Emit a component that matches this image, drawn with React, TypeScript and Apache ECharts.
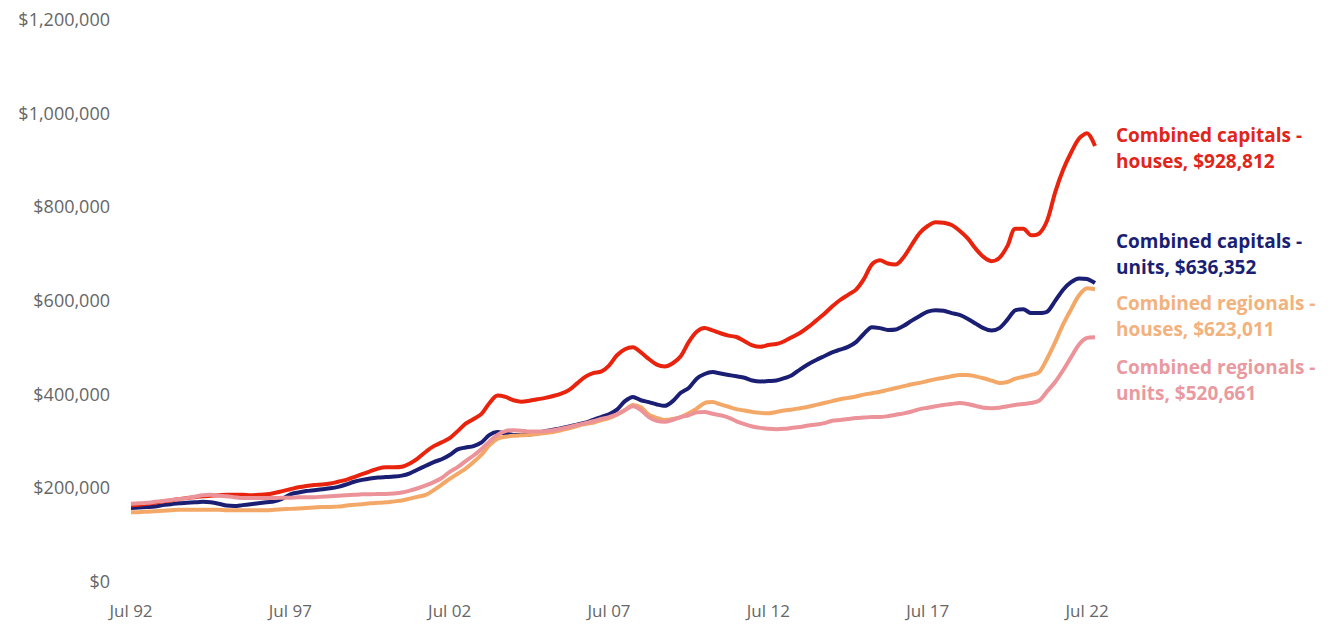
import React, { useEffect, useRef } from "react";
import * as echarts from "echarts";

// Quarterly observations, Jul 1992 .. Oct 2022 (values in $ thousands)
const quarterMonths = ["Jul", "Oct", "Jan", "Apr"];
const startYear = 1992;
const quarterCount = 122;
const categories: string[] = [];
for (let i = 0; i < quarterCount; i++) {
  const m = quarterMonths[i % 4];
  const yr = startYear + Math.floor((i + 2) / 4);
  categories.push(`${m} ${String(yr % 100).padStart(2, "0")}`);
}

const capitalsHouses = [
  162, 163, 165, 167, 170, 172, 175, 177, 179, 181, 182, 183, 184, 184, 184, 183, 184, 185, 188, 192,
  196, 200, 203, 205, 206, 208, 212, 216, 222, 228, 234, 240, 243, 243, 244, 251, 262, 276, 288, 296,
  305, 320, 336, 346, 357, 380, 396, 393, 386, 383, 385, 388, 391, 395, 400, 408, 422, 436, 444, 447,
  460, 482, 495, 499, 488, 474, 462, 458, 465, 480, 510, 532, 540, 535, 529, 524, 521, 512, 503, 500,
  504, 506, 512, 521, 530, 542, 556, 570, 586, 600, 611, 622, 645, 676, 685, 678, 676, 692, 718, 743,
  758, 766, 765, 760, 748, 732, 710, 692, 683, 690, 715, 752, 752, 738, 742, 770, 830, 878, 915, 945,
  956, 928.812,
];

const capitalsUnits = [
  156, 157, 158, 159, 162, 164, 166, 167, 168, 169, 168, 165, 161, 160, 162, 164, 166, 168, 170, 176,
  185, 189, 192, 194, 196, 198, 201, 206, 212, 216, 219, 221, 222, 223, 225, 230, 238, 246, 254, 260,
  269, 281, 285, 288, 296, 312, 318, 315, 312, 312, 313, 316, 320, 323, 326, 330, 334, 338, 344, 350,
  356, 366, 384, 393, 386, 382, 377, 374, 384, 402, 412, 432, 442, 446, 443, 440, 437, 434, 428, 426,
  427, 428, 433, 440, 452, 463, 472, 480, 488, 494, 500, 510, 528, 542, 540, 536, 537, 545, 556, 566,
  575, 578, 577, 572, 568, 560, 550, 540, 535, 540, 558, 578, 580, 572, 572, 575, 598, 622, 638, 646,
  645, 636.352,
];

const regionalHouses = [
  147, 147, 148, 149, 150, 151, 152, 152, 152, 152, 152, 152, 151, 151, 151, 151, 151, 151, 152, 153,
  154, 155, 156, 157, 158, 158, 159, 161, 163, 164, 166, 167, 168, 170, 172, 176, 180, 184, 194, 206,
  218, 229, 240, 254, 270, 290, 304, 308, 310, 311, 312, 314, 316, 318, 322, 326, 331, 335, 338, 343,
  348, 355, 365, 376, 371, 355, 348, 344, 346, 350, 358, 368, 380, 382, 377, 372, 367, 364, 361, 359,
  358, 361, 364, 366, 369, 372, 376, 380, 384, 388, 391, 394, 398, 401, 404, 408, 412, 416, 420, 423,
  427, 431, 434, 437, 440, 440, 437, 433, 428, 423, 425, 432, 436, 440, 446, 475, 510, 548, 580, 610,
  625, 623.011,
];

const regionalUnits = [
  165, 166, 167, 169, 171, 173, 175, 177, 180, 183, 184, 182, 181, 179, 177, 177, 177, 177, 177, 178,
  178, 179, 179, 179, 180, 181, 182, 183, 184, 185, 185, 186, 186, 187, 189, 193, 198, 204, 211, 220,
  233, 243, 256, 268, 282, 298, 312, 320, 322, 321, 319, 319, 320, 322, 325, 329, 333, 337, 341, 346,
  350, 356, 365, 373, 365, 350, 342, 340, 344, 350, 354, 360, 361, 357, 354, 349, 341, 335, 330, 327,
  325, 324, 325, 327, 329, 332, 334, 337, 342, 344, 346, 348, 349, 350, 350, 352, 355, 358, 362, 367,
  370, 373, 376, 378, 380, 378, 374, 370, 369, 370, 373, 376, 378, 380, 385, 405, 425, 450, 478, 505,
  519, 520.661,
];

const seriesNames = [
  "Combined capitals - houses",
  "Combined capitals - units",
  "Combined regionals - houses",
  "Combined regionals - units",
];
const endLabels = [
  ["Combined capitals -", "houses, $928,812"],
  ["Combined capitals -", "units, $636,352"],
  ["Combined regionals -", "houses, $623,011"],
  ["Combined regionals -", "units, $520,661"],
];
const colors = ["#E8240E", "#1B1F74", "#F4A868", "#EC9299"];
const textColors = ["#E0261A", "#1B1F74", "#F2B27E", "#E99AA0"];
const labelTops = [125, 231, 293, 357];

const FONT = "'Open Sans', 'Liberation Sans', sans-serif";

export default function App() {
  const ref = useRef<HTMLDivElement>(null);

  useEffect(() => {
    document.body.style.margin = "0";
    if (!ref.current) return;
    const chart = echarts.init(ref.current, undefined, { renderer: "svg" });
    const data = [capitalsHouses, capitalsUnits, regionalHouses, regionalUnits];
    const order = [1, 0, 2, 3];
    const series = order.map((k) => ({
      name: seriesNames[k],
      type: "line",
      data: data[k].map((v) => v * 1000),
      showSymbol: false,
      smooth: 0.3,
      lineStyle: { color: colors[k], width: 4 },
      itemStyle: { color: colors[k] },
      z: 2 + order.indexOf(k),
    }));

    const graphic: any[] = [];
    endLabels.forEach((lines, k) => {
      lines.forEach((t, j) => {
        graphic.push({
          type: "text",
          left: 1116,
          top: labelTops[k] + j * 26,
          style: {
            text: t,
            fill: textColors[k],
            font: `bold 19px ${FONT}`,
          },
        });
      });
    });

    chart.setOption({
      animation: false,
      backgroundColor: "#ffffff",
      grid: { left: 131, right: 241, top: 19, bottom: 45, containLabel: false },
      xAxis: {
        type: "category",
        data: categories,
        boundaryGap: false,
        axisLine: { show: false },
        axisTick: { show: false },
        splitLine: { show: false },
        axisLabel: {
          interval: (idx: number) => idx % 20 === 0,
          color: "#666666",
          fontSize: 17,
          fontFamily: FONT,
          margin: 21,
        },
      },
      yAxis: {
        type: "value",
        min: 0,
        max: 1200000,
        interval: 200000,
        axisLine: { show: false },
        axisTick: { show: false },
        splitLine: { show: false },
        axisLabel: {
          color: "#666666",
          fontSize: 18,
          fontFamily: FONT,
          margin: 21,
          formatter: (v: number) => "$" + v.toLocaleString("en-US"),
        },
      },
      series,
      graphic,
    });
    return () => chart.dispose();
  }, []);

  return <div ref={ref} style={{ width: 1336, height: 626 }} />;
}
